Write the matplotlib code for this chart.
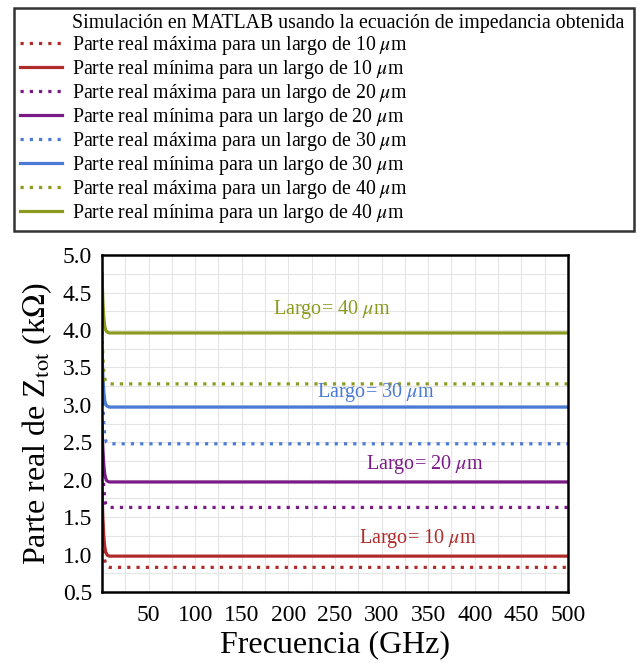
import matplotlib.pyplot as plt
from matplotlib.lines import Line2D

plt.rcParams['font.family'] = ['Liberation Serif', 'DejaVu Serif']
plt.rcParams['mathtext.fontset'] = 'stix'

# frecuencia (GHz)
freq = [0.05, 0.5, 1, 2, 3, 4, 5, 6, 8, 12, 20, 50, 100, 200, 300, 400, 500]

# parte real (kOhm)
min_10 = [1.89, 1.70, 1.50, 1.25, 1.11, 1.04, 1.01, 0.99, 0.98, 0.98, 0.98, 0.98, 0.98, 0.98, 0.98, 0.98, 0.98]
max_10 = [1.80, 1.55, 1.30, 1.05, 0.93, 0.87, 0.85, 0.84, 0.83, 0.83, 0.83, 0.83, 0.83, 0.83, 0.83, 0.83, 0.83]
min_20 = [2.78, 2.60, 2.42, 2.20, 2.08, 2.02, 1.99, 1.98, 1.97, 1.97, 1.97, 1.97, 1.97, 1.97, 1.97, 1.97, 1.97]
max_20 = [2.70, 2.45, 2.20, 1.90, 1.75, 1.68, 1.65, 1.64, 1.63, 1.63, 1.63, 1.63, 1.63, 1.63, 1.63, 1.63, 1.63]
min_30 = [3.76, 3.58, 3.40, 3.18, 3.06, 3.01, 2.99, 2.98, 2.97, 2.97, 2.97, 2.97, 2.97, 2.97, 2.97, 2.97, 2.97]
max_30 = [3.65, 3.35, 3.05, 2.75, 2.60, 2.53, 2.50, 2.49, 2.48, 2.48, 2.48, 2.48, 2.48, 2.48, 2.48, 2.48, 2.48]
min_40 = [4.76, 4.58, 4.40, 4.17, 4.05, 4.00, 3.98, 3.97, 3.96, 3.96, 3.96, 3.96, 3.96, 3.96, 3.96, 3.96, 3.96]
max_40 = [4.10, 3.85, 3.65, 3.45, 3.36, 3.32, 3.30, 3.29, 3.28, 3.28, 3.28, 3.28, 3.28, 3.28, 3.28, 3.28, 3.28]

largos = [10, 20, 30, 40]
colores = ['#b02a2a', '#7a1a86', '#4a7ad6', '#8c9a1e']
maximos = [max_10, max_20, max_30, max_40]
minimos = [min_10, min_20, min_30, min_40]

# posiciones de los textos "Largo= ..." (orden 10, 20, 30, 40)
etiquetas_x = [339, 346, 294, 247]
etiquetas_y = [1.22, 2.20, 3.17, 4.27]

fig = plt.figure(figsize=(6.37, 6.66), dpi=100)
ax = fig.add_axes([0.160, 0.111, 0.7316, 0.506])

handles = [Line2D([], [], color='none')]
labels = ['Simulación en MATLAB usando la ecuación de impedancia obtenida']
for largo, c, ymax, ymin in zip(largos, colores, maximos, minimos):
    h1, = ax.plot(freq, ymax, color=c, ls=(0, (1, 1.9)), lw=2.3)
    h2, = ax.plot(freq, ymin, color=c, ls='-', lw=2.3)
    handles += [h1, h2]
    labels += ['Parte real máxima para un largo de %d $\\mu$m' % largo,
               'Parte real mínima para un largo de %d $\\mu$m' % largo]

for largo, c, tx, ty in zip(largos, colores, etiquetas_x, etiquetas_y):
    ax.text(tx, ty, 'Largo= %d $\\mu$m' % largo,
            color=c, ha='center', va='center', fontsize=14.5)

ax.set_xlim(0, 500)
ax.set_ylim(0.5, 5.0)
ax.set_xticks(range(50, 501, 50))
ax.set_yticks([0.5, 1.0, 1.5, 2.0, 2.5, 3.0, 3.5, 4.0, 4.5, 5.0])
ax.set_yticklabels(['%.1f' % v for v in ax.get_yticks()])
ax.set_xticks(range(0, 501, 25), minor=True)
ax.set_yticks([0.5 + 0.25 * k for k in range(19)], minor=True)
ax.grid(True, which='both', color='#e4e4e4', lw=0.8)
ax.set_axisbelow(True)
ax.tick_params(which='both', length=0, labelsize=17)
ax.tick_params(axis='x', pad=9)
ax.tick_params(axis='y', pad=7)
for s in ax.spines.values():
    s.set_linewidth(1.8)

ax.set_xlabel('Frecuencia (GHz)', fontsize=23, labelpad=3)
ax.set_ylabel('Parte real de Z$_{\\mathrm{tot}}$ (k$\\Omega$)', fontsize=23, labelpad=6)

leg = fig.legend(handles, labels, loc='upper left',
                 bbox_to_anchor=(0.022, 0.65, 0.973, 0.338), mode='expand',
                 fontsize=14.3, frameon=True, fancybox=False, edgecolor='black',
                 handlelength=2.1, handletextpad=0.5, labelspacing=0.05,
                 borderpad=0.3, borderaxespad=0)
leg.get_frame().set_linewidth(1.8)

fig.savefig('out.png', dpi=100)
